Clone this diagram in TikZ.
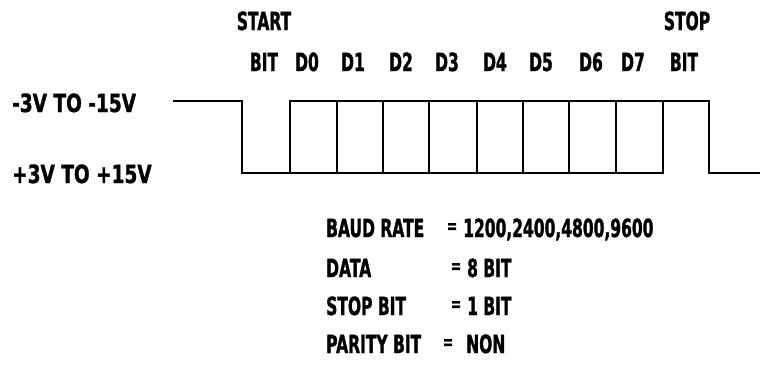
\documentclass[tikz,border=0pt]{standalone}
\usepackage{fontspec}
\setmainfont{DejaVu Sans}[FakeStretch=0.62,BoldFeatures={FakeBold=1.2}]
\newfontfamily\widefont{DejaVu Sans}[FakeStretch=0.74,BoldFeatures={FakeBold=1.2}]
\begin{document}
\begin{tikzpicture}[x=1pt,y=-1pt,
  lbl/.style={font=\fontsize{25}{25}\selectfont\bfseries, inner sep=0pt, text height=18pt, text depth=0pt},
  widelbl/.style={font=\widefont\fontsize{25}{25}\selectfont\bfseries, inner sep=0pt, text height=18pt, text depth=0pt, anchor=west},
  eqs/.style={font=\fontsize{20}{20}\selectfont\bfseries, inner sep=0pt},
  wave/.style={line width=2.9pt, line join=miter, line cap=rect}]
\useasboundingbox (0,0) rectangle (760,372);

% top labels
\node[lbl] (start) at (264,21) {START};
\node[lbl] (stop) at (687,21) {STOP};
\node[lbl] (sbit) at (264,62) {BIT};
\node[lbl] (d0) at (307,62) {D0};
\node[lbl] (d1) at (353,62) {D1};
\node[lbl] (d2) at (401,62) {D2};
\node[lbl] (d3) at (447,62) {D3};
\node[lbl] (d4) at (495,62) {D4};
\node[lbl] (d5) at (541,62) {D5};
\node[lbl] (d6) at (591,62) {D6};
\node[lbl] (d7) at (633,62) {D7};
\node[lbl] (pbit) at (684,62) {BIT};

% level labels
\node[widelbl] (neg) at (12,103) {-3V TO -15V};
\node[widelbl] (pos) at (12,174) {+3V TO +15V};

% waveform
\coordinate (a) at (174,101);
\coordinate (b) at (242,101);
\coordinate (c) at (242,173);
\coordinate (d) at (663,173);
\coordinate (e) at (290,101);
\coordinate (f) at (709,101);
\coordinate (g) at (709,173);
\coordinate (h) at (760,173);
\draw[wave] (a) -- (b) -- (c) -- (d);
\draw[wave] (e) -- (f) -- (g) -- (h);
\foreach \x in {290,337,383,429,477,523,569,616,663}
  \draw[wave] (\x,101) -- (\x,173);

% parameter block
\node[lbl, anchor=west] (baud) at (326,228) {BAUD RATE};
\node[lbl, anchor=west] (data) at (326,268) {DATA};
\node[lbl, anchor=west] (stopb) at (326,306) {STOP BIT};
\node[lbl, anchor=west] (par) at (326,344) {PARITY BIT};
\node[eqs] (eq1) at (452,228) {=};
\node[eqs] (eq2) at (456,268) {=};
\node[eqs] (eq3) at (456,306) {=};
\node[eqs] (eq4) at (448,344) {=};
\node[lbl, anchor=west] (v1) at (463,228) {1200,2400,4800,9600};
\node[lbl, anchor=west] (v2) at (467,268) {8 BIT};
\node[lbl, anchor=west] (v3) at (467,306) {1 BIT};
\node[lbl, anchor=west] (v4) at (466,344) {NON};
\end{tikzpicture}
\end{document}
